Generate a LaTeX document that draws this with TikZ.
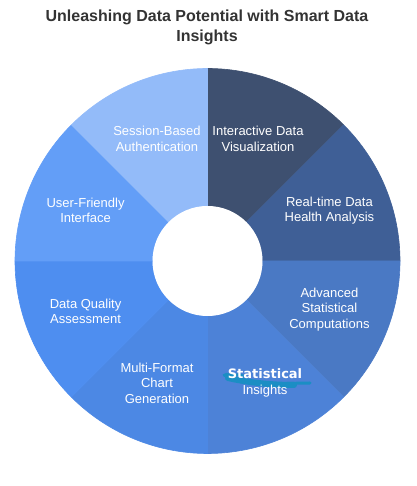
\documentclass[tikz,border=0pt]{standalone}
\usepackage{fontspec}
\setmainfont{Liberation Sans}
\newfontfamily\scribfont{DejaVu Sans}
\usetikzlibrary{calc}
\definecolor{cA}{HTML}{3E5070}
\definecolor{cB}{HTML}{3F5F96}
\definecolor{cC}{HTML}{4A79C4}
\definecolor{cD}{HTML}{4D82D7}
\definecolor{cE}{HTML}{4C88E4}
\definecolor{cF}{HTML}{4E8EF0}
\definecolor{cG}{HTML}{639EF7}
\definecolor{cH}{HTML}{93BBF9}
\definecolor{titlegray}{HTML}{333333}
\definecolor{scrib}{HTML}{1B8EC4}
\begin{document}
\begin{tikzpicture}[x=1pt,y=1pt,
  lbl/.style={text=white,align=center,font=\fontsize{13}{15.5}\selectfont,inner sep=0pt},
  ttl/.style={text=titlegray,align=center,font=\bfseries\fontsize{16}{20}\selectfont,inner sep=0pt}]
\useasboundingbox (0,0) rectangle (416,486);
\coordinate (c) at (207.5,225);
\def\Ro{192.5}
\def\Ri{55}
\foreach \col [count=\i] in {cA,cB,cC,cD,cE,cF,cG,cH}{
  \pgfmathsetmacro\sa{90-45*(\i-1)}
  \pgfmathsetmacro\ea{90-45*\i}
  \filldraw[\col,line width=0.6pt,line join=round] ($(c)+(\sa:\Ro)$) arc[start angle=\sa,end angle=\ea,radius=\Ro]
     -- ($(c)+(\ea:\Ri)$) arc[start angle=\ea,end angle=\sa,radius=\Ri] -- cycle;
}
\fill[white] (c) circle[radius=\Ri];
\node[ttl] (title) at (207,459) {Unleashing Data Potential with Smart Data\\Insights};
\node[lbl] (l1) at ($(c)+(67.5:132)$) {Interactive Data\\Visualization};
\node[lbl] (l2) at ($(c)+(22.5:132)$) {Real-time Data\\Health Analysis};
\node[lbl] (l3) at ($(c)+(-22.5:132)+(0,2)$) {Advanced\\Statistical\\Computations};
\draw[scrib,line width=6pt,line cap=round]
  (228,108) .. controls (245,104) and (270,101) .. (294,101);
\draw[scrib,line width=3pt,line cap=round]
  (224,111) .. controls (250,99) and (285,103) .. (310,103);
\draw[scrib,line width=2.5pt,line cap=round]
  (226,112) .. controls (232,109) and (238,113) .. (244,110);
\node[lbl] (l4) at ($(c)+(-67.5:132)+(7,0)$) {{\scribfont\bfseries Statistical}\\Insights};
\node[lbl] (l5) at ($(c)+(-112.5:132)$) {Multi-Format\\Chart\\Generation};
\node[lbl] (l6) at ($(c)+(-157.5:132)$) {Data Quality\\Assessment};
\node[lbl] (l7) at ($(c)+(157.5:132)$) {User-Friendly\\Interface};
\node[lbl] (l8) at ($(c)+(112.5:132)$) {Session-Based\\Authentication};
\end{tikzpicture}
\end{document}
